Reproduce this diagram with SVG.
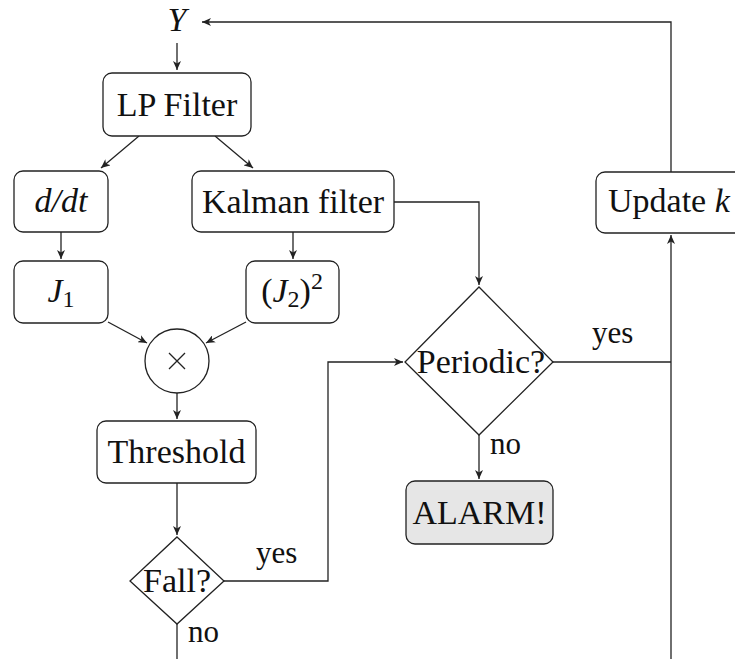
<svg xmlns="http://www.w3.org/2000/svg" width="735" height="659" viewBox="0 0 735 659">
<style>
.box{fill:#fff;stroke:#222;stroke-width:1.3}
.alarm{fill:#e6e6e6;stroke:#222;stroke-width:1.3}
.t{font-family:"Liberation Serif","DejaVu Serif",serif;font-size:34px;fill:#111;text-anchor:middle}
.s{font-family:"Liberation Serif","DejaVu Serif",serif;font-size:34px;fill:#111;text-anchor:start}
.l{font-family:"Liberation Serif","DejaVu Serif",serif;font-size:31px;fill:#111}
.i{font-style:italic}
.c{fill:none;stroke:#222;stroke-width:1.3}
</style>
<defs>
<marker id="a" markerWidth="10" markerHeight="8" refX="9" refY="4" orient="auto" markerUnits="userSpaceOnUse">
<path d="M0,0 L9,4 L0,8 L2.5,4 Z" fill="#222"/>
</marker>
</defs>
<g id="connectors">
<path class="c" d="M177,43 V70" marker-end="url(#a)"/>
<path class="c" d="M139,136 L101,168" marker-end="url(#a)"/>
<path class="c" d="M215,136 L253,168" marker-end="url(#a)"/>
<path class="c" d="M61,232 V259" marker-end="url(#a)"/>
<path class="c" d="M293,232 V259" marker-end="url(#a)"/>
<path class="c" d="M108,322 L147,343" marker-end="url(#a)"/>
<path class="c" d="M246,322 L206,343" marker-end="url(#a)"/>
<path class="c" d="M177,393 V419" marker-end="url(#a)"/>
<path class="c" d="M177,483 V535" marker-end="url(#a)"/>
<path class="c" d="M177,624 V659"/>
<path class="c" d="M224,581 H328 V362 H403" marker-end="url(#a)"/>
<path class="c" d="M394,202 H479 V285" marker-end="url(#a)"/>
<path class="c" d="M479,435 V479" marker-end="url(#a)"/>
<path class="c" d="M553,362 H671"/>
<path class="c" d="M671,659 V235" marker-end="url(#a)"/>
<path class="c" d="M671,172 V22 H202" marker-end="url(#a)"/>
<text class="l" x="592" y="343">yes</text>
<text class="l" x="256" y="563">yes</text>
<text class="l" x="188" y="642">no</text>
<text class="l" x="490" y="454">no</text>
</g>
<g id="Y"><text class="t i" x="177" y="31">Y</text></g>
<g id="lp"><rect class="box" x="103" y="73" width="148" height="63" rx="9"/><text class="t" x="177" y="116">LP Filter</text></g>
<g id="ddt"><rect class="box" x="14" y="171" width="94" height="61" rx="9"/><text class="t i" x="61" y="212">d/dt</text></g>
<g id="kalman"><rect class="box" x="192" y="171" width="202" height="61" rx="9"/><text class="t" x="293" y="213">Kalman filter</text></g>
<g id="j1"><rect class="box" x="14" y="261" width="94" height="62" rx="9"/><text class="t" x="61" y="302"><tspan class="i">J</tspan><tspan font-size="24" dy="5">1</tspan></text></g>
<g id="j2"><rect class="box" x="246" y="261" width="93" height="62" rx="9"/><text class="t" x="292" y="302">(<tspan class="i">J</tspan><tspan font-size="24" dy="5">2</tspan><tspan dy="-5">)</tspan><tspan font-size="24" dy="-13">2</tspan></text></g>
<g id="mult"><circle class="box" cx="177" cy="361" r="32"/><path class="c" d="M169,353 L185,369 M185,353 L169,369"/></g>
<g id="threshold"><rect class="box" x="97" y="421" width="159" height="62" rx="9"/><text class="t" x="176.5" y="463">Threshold</text></g>
<g id="fall"><polygon class="box" points="177,537 224,581 177,624 130,581"/><text class="t" x="177" y="592">Fall?</text></g>
<g id="periodic"><polygon class="box" points="479,287 553,362 479,435 405,362"/><text class="t" x="481" y="373">Periodic?</text></g>
<g id="alarm"><rect class="alarm" x="406" y="481" width="147" height="63" rx="9"/><text class="t" x="479.5" y="524">ALARM!</text></g>
<g id="update"><rect class="box" x="596" y="172" width="150" height="61" rx="9"/><text class="s" x="608" y="212">Update <tspan class="i">k</tspan></text></g>
</svg>
